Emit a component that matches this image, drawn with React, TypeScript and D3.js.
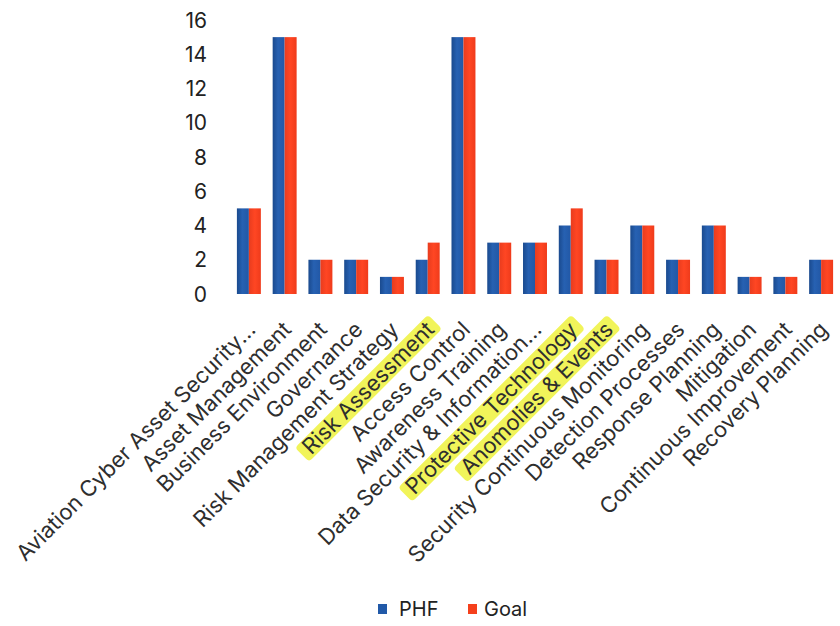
import React, { useEffect, useRef } from "react";
import * as d3 from "d3";

const categories = [
  "Aviation Cyber Asset Security...",
  "Asset Management",
  "Business Environment",
  "Governance",
  "Risk Management Strategy",
  "Risk Assessment",
  "Access Control",
  "Awareness Training",
  "Data Security & Information...",
  "Protective Technology",
  "Anomolies & Events",
  "Security Continuous Monitoring",
  "Detection Processes",
  "Response Planning",
  "Mitigation",
  "Continuous Improvement",
  "Recovery Planning",
];
const phfValues = [5, 15, 2, 2, 1, 2, 15, 3, 3, 4, 2, 4, 2, 4, 1, 1, 2];
const goalValues = [5, 15, 2, 2, 1, 3, 15, 3, 3, 5, 2, 4, 2, 4, 1, 1, 2];
const highlighted = ["Risk Assessment", "Protective Technology", "Anomolies & Events"];
const yTicks = [0, 2, 4, 6, 8, 10, 12, 14, 16];
const seriesNames = ["PHF", "Goal"];

const W = 840;
const H = 626;
const FONT = "Inter, 'Open Sans', 'Liberation Sans', Arial, sans-serif";

export default function App() {
  const ref = useRef<SVGSVGElement>(null);
  useEffect(() => {
    const svg = d3.select(ref.current);
    svg.selectAll("*").remove();

    const defs = svg.append("defs");
    const gb = defs.append("linearGradient").attr("id", "gBlue").attr("x1", "0").attr("x2", "1").attr("y1", "0").attr("y2", "0");
    gb.append("stop").attr("offset", "0%").attr("stop-color", "#1a4a8e");
    gb.append("stop").attr("offset", "45%").attr("stop-color", "#2761b2");
    gb.append("stop").attr("offset", "100%").attr("stop-color", "#2258a6");
    const gr = defs.append("linearGradient").attr("id", "gRed").attr("x1", "0").attr("x2", "1").attr("y1", "0").attr("y2", "0");
    gr.append("stop").attr("offset", "0%").attr("stop-color", "#e83c1e");
    gr.append("stop").attr("offset", "50%").attr("stop-color", "#ff4623");
    gr.append("stop").attr("offset", "100%").attr("stop-color", "#ef3b1b");

    const x = d3.scaleBand<string>().domain(categories).range([231, 839]).paddingInner(0.33).paddingOuter(0.165);
    const y = d3.scaleLinear().domain([0, 16]).range([294, 20]);
    const xs = d3.scaleBand<string>().domain(seriesNames).range([0, x.bandwidth()]);

    // y tick labels
    svg.append("g")
      .selectAll("text")
      .data(yTicks)
      .join("text")
      .attr("x", 207)
      .attr("y", (d) => y(d))
      .attr("dy", "0.36em")
      .attr("text-anchor", "end")
      .attr("font-family", FONT)
      .attr("font-size", 21)
      .attr("fill", "#222")
      .text((d) => d);

    const groups = svg.append("g")
      .selectAll("g")
      .data(categories.map((c, i) => ({ c, v: [phfValues[i], goalValues[i]] })))
      .join("g")
      .attr("transform", (d) => `translate(${x(d.c)},0)`);
    groups.selectAll("rect")
      .data((d) => d.v.map((v, j) => ({ v, s: seriesNames[j] })))
      .join("rect")
      .attr("x", (d) => xs(d.s)!)
      .attr("width", xs.bandwidth())
      .attr("y", (d) => y(d.v))
      .attr("height", (d) => y(0) - y(d.v))
      .attr("fill", (d) => (d.s === "PHF" ? "url(#gBlue)" : "url(#gRed)"));

    // category labels
    const lab = svg.append("g")
      .selectAll("g")
      .data(categories)
      .join("g")
      .attr("transform", (d) => `translate(${x(d)! + x.bandwidth() / 2 + 8},331) rotate(-45)`);
    const texts = lab.append("text")
      .attr("text-anchor", "end")
      .attr("font-family", FONT)
      .attr("font-size", 22)
      .attr("fill", "#2e2e2e")
      .text((d) => d);
    texts.each(function (d) {
      if (!highlighted.includes(d)) return;
      const bb = (this as SVGTextElement).getBBox();
      d3.select((this as SVGTextElement).parentNode as SVGGElement)
        .insert("rect", "text")
        .attr("x", bb.x - 6)
        .attr("y", -17)
        .attr("width", bb.width + 12)
        .attr("height", 20)
        .attr("rx", 4)
        .attr("fill", "#f1f45a");
    });

    // legend
    const leg = svg.append("g").attr("transform", "translate(378,609)");
    const items = [
      { n: "PHF", c: "#2159a8", x: 0, tx: 21 },
      { n: "Goal", c: "#f5401c", x: 90, tx: 106 },
    ];
    items.forEach((it) => {
      leg.append("rect").attr("x", it.x).attr("y", -5).attr("width", 9).attr("height", 10).attr("fill", it.c);
      leg.append("text")
        .attr("x", it.tx)
        .attr("y", 0)
        .attr("dy", "0.36em")
        .attr("font-family", FONT)
        .attr("font-size", 20)
        .attr("fill", "#222")
        .text(it.n);
    });
  }, []);
  return <svg ref={ref} width={W} height={H} style={{ display: "block", position: "absolute", left: 0, top: 0, background: "#fff" }} />;
}
